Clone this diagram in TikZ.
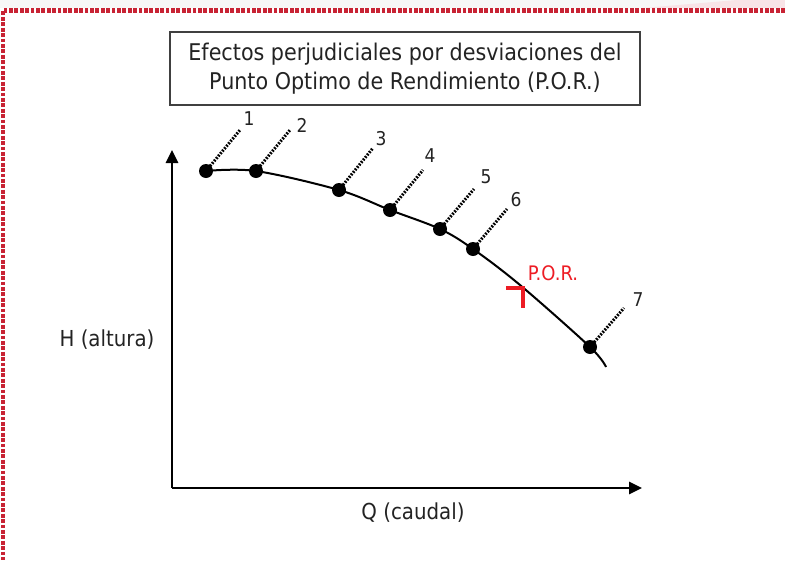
\documentclass[tikz,border=0pt]{standalone}
\usepackage{fontspec}
\setmainfont{DejaVu Sans Condensed}
\usetikzlibrary{arrows.meta}

\definecolor{marco}{RGB}{200,35,52}
\definecolor{rojo}{RGB}{237,28,36}
\definecolor{texto}{RGB}{35,35,35}

\tikzset{
  punto/.style={circle,fill=black,inner sep=0pt,minimum size=14pt},
  guia/.style={line width=3pt,dash pattern=on 1.8pt off 1.4pt},
  num/.style={text=texto,font=\fontsize{19}{22}\selectfont,inner sep=0pt},
  eje/.style={line width=2.8pt,-{Triangle[length=13pt,width=12pt]}},
  rotulo/.style={text=texto,font=\fontsize{22}{26}\selectfont,inner sep=0pt}
}

\begin{document}
\begin{tikzpicture}[x=1pt,y=-1pt]
\useasboundingbox (0,0) rectangle (785,560);
% fondo y marco punteado
\fill[black!3] (0,0) rectangle (785,8);
\fill[marco!12] (643,8) -- (737,0) -- (785,0) -- (785,8) -- cycle;
\draw[marco,line width=4.2pt,dash pattern=on 3.8pt off 1.6pt]
  (785,10.5) -- (3,10.5) -- (3,560);

% titulo
\node[draw=black!75,line width=2pt,minimum width=470pt,minimum height=73pt,
  align=center,text=texto,font=\fontsize{23}{29}\selectfont]
  (titulo) at (405,68.5)
  {Efectos perjudiciales por desviaciones del\\Punto Optimo de Rendimiento (P.O.R.)};

% ejes
\coordinate (origen) at (172,488);
\coordinate (ytope) at (172,150);
\coordinate (xfin) at (642,488);
\draw[eje] (origen) -- (ytope);
\draw[eje] (origen) -- (xfin);
\node[rotulo] (altura) at (107,340) {H (altura)};
\node[rotulo] (caudal) at (413,513) {Q (caudal)};

% curva
\draw[line width=2pt] plot[smooth,tension=0.55] coordinates
  {(206,171) (256,171) (339,190) (390,210) (440,229) (473,249)
   (520,285) (590,347) (606,367)};

% puntos, guias y numeros
\foreach \n/\px/\py/\ex/\ey/\lx/\ly in {
  1/206/171/240/130/249/119,
  2/256/171/290/130/302/125,
  3/339/190/373/148/381/139,
  4/390/210/423/170/430/156,
  5/440/229/474/189/486/177,
  6/473/249/507/209/516/200,
  7/590/347/624/308/638/300}{
  \node[punto] (p\n) at (\px,\py) {};
  \coordinate (e\n) at (\ex,\ey);
  \node[num] (n\n) at (\lx,\ly) {\n};
  \draw[guia] (p\n.center) -- (e\n);
}

% punto optimo
\coordinate (por) at (523,288);
\draw[rojo,line width=3.5pt] (506,288) -- (por) -- (523,308);
\node[text=rojo,font=\fontsize{20}{24}\selectfont,inner sep=0pt]
  (porlbl) at (553,273) {P.O.R.};
\end{tikzpicture}
\end{document}
